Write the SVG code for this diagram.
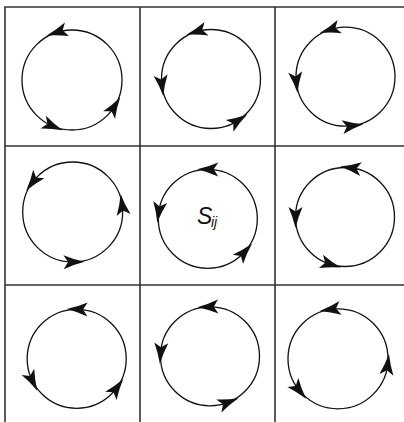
<svg xmlns="http://www.w3.org/2000/svg" xmlns:xlink="http://www.w3.org/1999/xlink" width="404" height="422" viewBox="0 0 404 422">
  <style>
    .grid { stroke: #333; stroke-width: 1.6; fill: none; }
    .ring { stroke: #111; stroke-width: 1.3; fill: none; }
    .ah { fill: #111; }
    .lbl { font-family: "Liberation Sans", Arial, sans-serif; font-style: italic; fill: #111; }
  </style>
  <defs>
    <path id="ah" class="ah" d="M11,0 Q0,-2.6 -10,-7 L-5.5,0 L-10,7 Q0,2.6 11,0 Z"/>
  </defs>
  <rect x="0" y="0" width="404" height="422" fill="#fff"/>
  <g id="connectors">
    <line class="grid" x1="5" y1="7" x2="5" y2="422"/>
    <line class="grid" x1="140" y1="7" x2="140" y2="422"/>
    <line class="grid" x1="275" y1="7" x2="275" y2="422"/>
    <line class="grid" x1="4.2" y1="7" x2="404" y2="7"/>
    <line class="grid" x1="5" y1="146" x2="404" y2="146"/>
    <line class="grid" x1="5" y1="285" x2="404" y2="285"/>
  </g>
  <g id="cell-1-1" transform="translate(72,80)">
    <circle class="ring" r="50"/>
    <use xlink:href="#ah" href="#ah" transform="rotate(-107) translate(50,0) rotate(-90)"/>
    <use xlink:href="#ah" href="#ah" transform="rotate(-247) translate(50,0) rotate(-90)"/>
    <use xlink:href="#ah" href="#ah" transform="rotate(-328) translate(50,0) rotate(-90)"/>
  </g>
  <g id="cell-1-2" transform="translate(211,79)">
    <circle class="ring" r="49.5"/>
    <use xlink:href="#ah" href="#ah" transform="rotate(-106.5) translate(49.5,0) rotate(-90)"/>
    <use xlink:href="#ah" href="#ah" transform="rotate(-187) translate(49.5,0) rotate(-90)"/>
    <use xlink:href="#ah" href="#ah" transform="rotate(-303) translate(49.5,0) rotate(-90)"/>
  </g>
  <g id="cell-1-3" transform="translate(345.5,76.7)">
    <circle class="ring" r="49.5"/>
    <use xlink:href="#ah" href="#ah" transform="rotate(-108) translate(49.5,0) rotate(-90)"/>
    <use xlink:href="#ah" href="#ah" transform="rotate(-186) translate(49.5,0) rotate(-90)"/>
    <use xlink:href="#ah" href="#ah" transform="rotate(-278) translate(49.5,0) rotate(-90)"/>
  </g>
  <g id="cell-2-1" transform="translate(72.7,212)">
    <circle class="ring" r="50"/>
    <use xlink:href="#ah" href="#ah" transform="rotate(-143) translate(50,0) rotate(-90)"/>
    <use xlink:href="#ah" href="#ah" transform="rotate(-271) translate(50,0) rotate(-90)"/>
    <use xlink:href="#ah" href="#ah" transform="rotate(-368) translate(50,0) rotate(-90)"/>
  </g>
  <g id="cell-2-2" transform="translate(207.8,218.8)">
    <circle class="ring" r="49.5"/>
    <use xlink:href="#ah" href="#ah" transform="rotate(-89.5) translate(49.5,0) rotate(-90)"/>
    <use xlink:href="#ah" href="#ah" transform="rotate(-172) translate(49.5,0) rotate(-90)"/>
    <use xlink:href="#ah" href="#ah" transform="rotate(-318) translate(49.5,0) rotate(-90)"/>
    <text class="lbl" x="197" y="224" font-size="23" transform="translate(-207.8,-218.8)">S</text>
    <text class="lbl" x="211" y="226.5" font-size="14" transform="translate(-207.8,-218.8)">ij</text>
  </g>
  <g id="cell-2-3" transform="translate(345,217)">
    <circle class="ring" r="49.5"/>
    <use xlink:href="#ah" href="#ah" transform="rotate(-83) translate(49.5,0) rotate(-90)"/>
    <use xlink:href="#ah" href="#ah" transform="rotate(-180) translate(49.5,0) rotate(-90)"/>
    <use xlink:href="#ah" href="#ah" transform="rotate(-253) translate(49.5,0) rotate(-90)"/>
  </g>
  <g id="cell-3-1" transform="translate(76.7,358.8)">
    <circle class="ring" r="49.5"/>
    <use xlink:href="#ah" href="#ah" transform="rotate(-89) translate(49.5,0) rotate(-90)"/>
    <use xlink:href="#ah" href="#ah" transform="rotate(-206.5) translate(49.5,0) rotate(-90)"/>
    <use xlink:href="#ah" href="#ah" transform="rotate(-324) translate(49.5,0) rotate(-90)"/>
  </g>
  <g id="cell-3-2" transform="translate(210,356.3)">
    <circle class="ring" r="49.5"/>
    <use xlink:href="#ah" href="#ah" transform="rotate(-92) translate(49.5,0) rotate(-90)"/>
    <use xlink:href="#ah" href="#ah" transform="rotate(-176) translate(49.5,0) rotate(-90)"/>
    <use xlink:href="#ah" href="#ah" transform="rotate(-291.5) translate(49.5,0) rotate(-90)"/>
  </g>
  <g id="cell-3-3" transform="translate(338,358.8)">
    <circle class="ring" r="50"/>
    <use xlink:href="#ah" href="#ah" transform="rotate(-98.5) translate(50,0) rotate(-90)"/>
    <use xlink:href="#ah" href="#ah" transform="rotate(-219) translate(50,0) rotate(-90)"/>
    <use xlink:href="#ah" href="#ah" transform="rotate(-353) translate(50,0) rotate(-90)"/>
  </g>
</svg>
